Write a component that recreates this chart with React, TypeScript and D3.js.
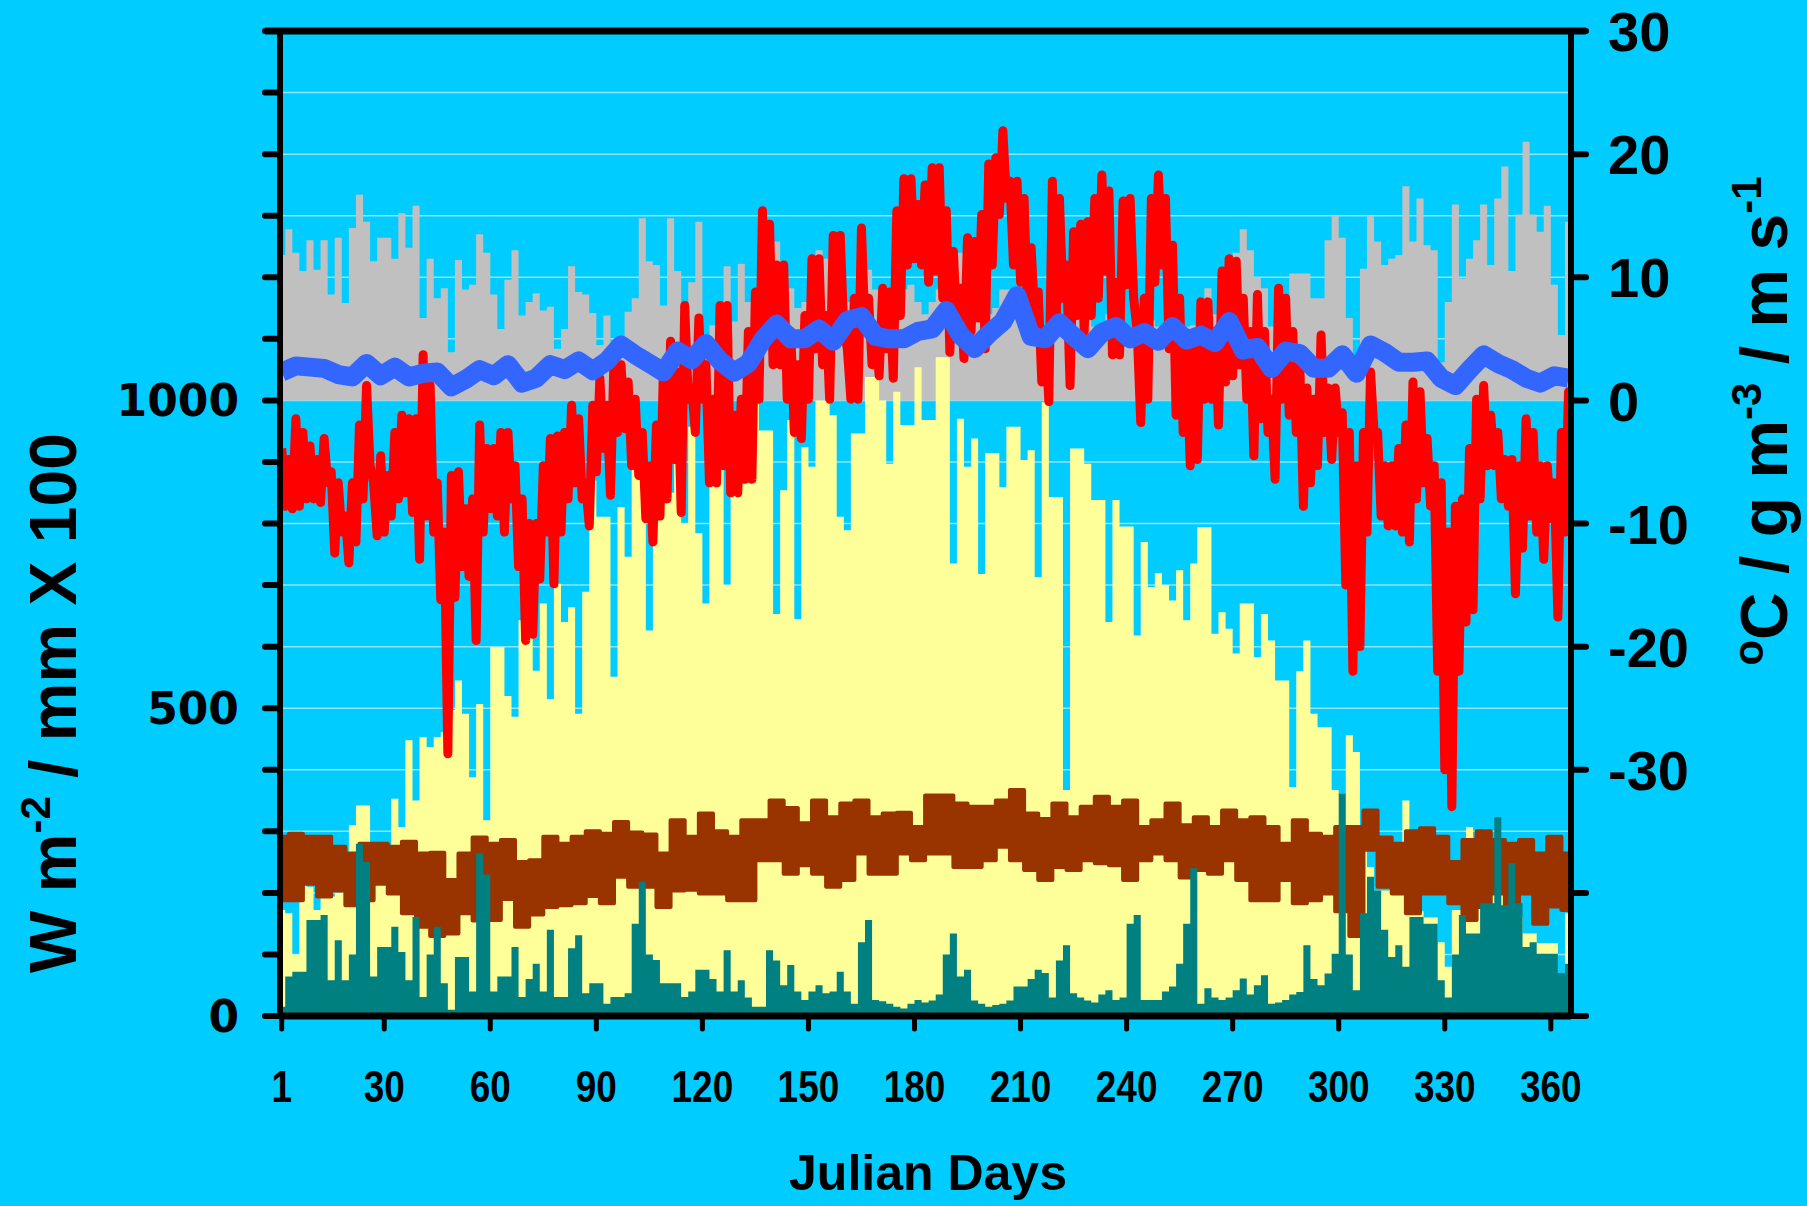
import * as d3 from 'd3';

// day grids used by the series below
const daysBy2 = d3.range(1, 366, 2); // 183 values
const daysBy4 = d3.range(1, 366, 4); // 92 values

const dayTicks = [1, 30, 60, 90, 120, 150, 180, 210, 240, 270, 300, 330, 360];
const leftTicks = d3.range(0, 1601, 100);
const leftLabels = [0, 500, 1000];
const rightTicks = d3.range(-50, 31, 10);
const rightLabels = [-30, -20, -10, 0, 10, 20, 30];

// grey: right axis, every 2nd day
const windSpeed = [
  11.8, 13.9, 12, 10.5, 13, 10.6, 13, 8.6, 13.2, 7.9, 14, 16.7, 14.5, 11.3, 13.2, 13.2, 11.5, 15.2, 12.4, 15.8,
  6.7, 11.5, 8.3, 9.1, 3.9, 11.4, 9, 9.4, 13.5, 12, 8.6, 5.8, 9.8, 12.2, 6.9, 8, 8.7, 7.3, 7.6, 4.2,
  5.8, 10.9, 8.8, 8.6, 7.1, 4.5, 6.9, 3.4, 5, 7.2, 8.3, 14.8, 11.3, 11, 7.7, 14.8, 10.5, 5, 9.6, 14.5,
  2.6, 6.1, 3.9,
  10.9, 6.4, 11.1, 8, 9, 9, 12.9, 12.9, 10, 9.1, 7.5, 8, 10, 12.2, 11.5, 8, 7, 8, 7.5, 8,
  10.6, 9, 8, 7, 8, 9, 9.4, 8, 7, 8, 9, 8, 9, 12, 11, 9, 8, 7, 7.5, 9,
  9, 8, 7, 6, 7, 6, 7, 6, 6.5, 7, 7.5, 6.5, 6, 6, 7, 6.5, 6, 5.5, 6, 5.5, 6.5, 6,
  6, 6, 6.5, 6, 6.1, 8, 9.1, 7, 7, 8, 12, 13.9, 12.2, 10, 9.1, 6, 7, 8, 10.3, 10.3,
  10.3, 8.3, 8.3, 13, 15, 13.2, 6.7, 3.4, 10.7, 15, 12.9, 11, 11.5, 11.8, 17.4, 12.9, 16.4, 12.6, 12.2, 3.1,
  8, 15.9, 9.9, 11.5, 13, 15.9, 11, 16.4, 19, 10.5, 15.1, 21, 15.1, 13.7, 15.8, 9.4, 5.3, 14.5,
];

// yellow: left axis, every 2nd day
const solar = [
  172, 167, 100, 226, 210, 172, 210, 194, 200, 221, 310, 342, 342, 237, 237, 240, 353, 307, 448, 350,
  453, 437, 453, 461, 497, 545, 491, 388, 507, 318, 599, 599, 520, 486, 643, 643, 561, 670, 515, 702,
  640, 664, 491, 689, 870, 811, 811, 551, 827, 746, 903, 903, 626, 919, 919, 850, 919, 800, 957, 784,
  670, 919, 930,
  700, 859, 865, 865, 1006, 951, 951, 653, 854, 968, 645, 924, 892, 1000, 1000, 976, 811, 789, 946, 946,
  1038, 1038, 1000, 897, 1014, 960, 960, 1054, 968, 968, 1070, 1070, 735, 970, 892, 938, 718, 914, 914, 859,
  957, 957, 903, 919, 713, 997, 843, 843, 367, 922, 922, 897, 838, 838, 640, 838, 795, 795, 618, 770,
  697, 719,
  700, 675, 724, 643, 735, 794, 794, 621, 656, 629, 589, 670, 670, 583, 653, 610, 545, 545, 372, 560,
  610, 491, 469, 469, 367, 360, 456, 429, 300, 242, 204, 204, 204, 204, 350, 170, 170, 160, 160, 120,
  80, 172, 172, 307, 199, 199, 199, 199, 199, 248, 160, 134, 134, 118, 118, 118, 48, 167,
];

// red: right axis, daily high / low every 2nd day
const tempHigh = [
  -3.9, -4.8, -1.5, -2.6, -3.7, -4.8, -3.1, -5.8, -6.7, -9.4, -6.7, -2, 1.2, -6.7, -4.5, -6.1, -2.6, -1.2, -1.5, -1.5,
  3.7, 1.2, -6.7, -10.7, -6.1, -5.8, -8.8, -8, -2, -3.9, -3.9, -2.6, -2.6, -5.3, -8, -10, -10, -5.3, -3.1, -2.9,
  -2.6, -0.4, -1.5, -6.7, -0.4, 1.8, -0.4, 3.4, 2.9, 1.5, 0.1, -2.6, -5.3, -2, 2.9, 4.8, 2.3, 7.7, 1, 6.7,
  2.9, 0.1, 7.7,
  7.7, -1.2, 0.1, 5.6, 8.8, 15.4, 14.3, 11, 11, 5.6, 2.9, 6.9, 11.5, 11.5, 6.9, 13.4, 13.4, 4.2, 8.3, 14,
  8.3, 5.6, 9.1, 8.8, 15.4, 18, 18, 15.9, 17.5, 18.9, 18.9, 15.4, 12.1, 9.1, 13.2, 12.9, 15.1, 19.2, 19.7, 21.9,
  17.8, 17.8, 16.4, 12.4, 8.8, 5.6, 17.8, 16.4, 11, 13.7, 14.3, 14.5, 16.4, 18.3, 17, 9.6, 16.2, 16.4, 5.6, 8.3,
  16.4, 18.3,
  16.4, 12.6, 8.3, 4.2, 4.2, 8, 8, 5.6, 10.5, 11.5, 11.3, 8.3, 5.6, 8.6, 5.6, 0.1, 9.1, 8.3, 5.6, 2.9,
  1, 0.1, 5.3, 1, 1, -1, -2.6, -5.3, -2.6, 2.3, -2.6, -5.3, -5.3, -3.9, -2, 1.5, 0.7, -3.1, -5.3, -6.7,
  -10.7, -8.6, -8, -3.9, 0.1, 1.2, -1.2, -2.6, -4.8, -4.8, -5.3, -1.5, -2.6, -5.3, -5.3, -6.7, -2.6, 0.7,
];
const tempLow = [
  -8.6, -8.8, -8.6, -8, -8, -8.3, -6.7, -12.4, -10.7, -13.2, -11.5, -8, -5.3, -11, -10.7, -9.4, -8, -7.5, -9.1, -12.9,
  -9.4, -10.7, -16.2, -28.7, -16, -13.5, -14.3, -19.5, -10.7, -8.8, -9.4, -10.7, -8, -13.5, -19.5, -19, -14.5, -10.7, -14.9, -10.7,
  -8, -6.7, -8, -10.2, -5.8, -3.9, -7.7, -2.6, -2.3, -5.3, -6.1, -9.6, -11.5, -9.4, -8, -4.8, -9.1, 0.1, -2.6, 0.1,
  -6.7, -6.7, -5.3,
  -7.5, -7.5, -6.4, -6.4, 0.1, 5.6, 2.9, 2.9, 0.1, -2.6, -3.1, 0.1, 4.2, 2.9, 0.1, 6.9, 5.6, 0.1, 0.1, 5.6,
  2.9, 2, 4.2, 1.8, 6.9, 11, 11.5, 11, 9.6, 10.5, 8.3, 3.9, 5.6, 3.4, 5.6, 6.7, 4.2, 11, 15.1, 16.4,
  11, 9.6, 6.9, 6.9, 1.5, -0.1, 5.6, 8.3, 1.2, 6.9, 5.6, 6.9, 8.3, 10.5, 3.7, 3.7, 9.4, 8.3, -1.8, 0.1,
  9.6, 11,
  4.2, -1.2, -2.6, -5.3, -4.8, 0.1, 0.1, -2, 1.5, 2, 2.9, 0.1, -4.5, -1.5, -2.6, -6.4, 0.1, -1.2, -2.6, -8.6,
  -6.7, -5.3, -2.6, -4.8, -2.6, -15, -22, -20, -10.7, -2.6, -9.4, -10.2, -10.2, -10.7, -11.5, -8, -6.7, -8.6, -22, -30,
  -33, -22, -18, -17, -8, -5.3, -5.3, -8, -8.6, -15.7, -12, -9.4, -10.7, -12.9, -9.6, -17.6, -10.7, -9.4,
];

// blue: right axis, every 4th day
const vapour = [
  2.3, 2.8, 2.7, 2.6, 2.1, 1.9, 3, 2, 2.7, 1.9, 2.2, 2.3, 1.1, 1.7, 2.5, 2, 2.9, 1.4, 1.8, 2.9,
  2.5, 3.2, 2.4, 3.2, 4.5, 3.7, 3, 2.3, 4, 3.3, 4.6, 3.2,
  2.3, 3, 4.9, 6.2, 5, 5, 5.8, 4.8, 6.5, 6.8, 5.2, 5, 5, 5.6, 5.8, 7.3, 5.3, 4.2, 5.4, 6.4,
  8.5, 5.2, 5, 6.3, 5.2, 4.2, 5.5, 6, 5, 5.5,
  4.8, 6, 4.9, 5.3, 4.7, 6.4, 4.1, 4.3, 2.6, 4, 3.8, 2.6, 2.6, 3.7, 2.2, 4.5, 3.9, 3.1, 3.1, 3.2,
  1.8, 1.2, 2.5, 3.7, 3, 2.5, 1.8, 1.4, 2, 1.8,
];

// brown: left axis, high / low every 4th day
const longwaveHigh = [
  291, 296, 291, 291, 275, 264, 280, 280, 275, 283, 264, 265, 221, 264, 290, 280, 286, 250, 253, 291,
  280, 291, 300, 296, 315, 298, 295, 264, 318, 291, 329, 300,
  291, 318, 318, 350, 338, 313, 350, 323, 345, 350, 323, 329, 330, 307, 358, 358, 345, 340, 340, 350,
  367, 329, 320, 345, 323, 340, 356, 340, 350, 307,
  318, 345, 310, 323, 307, 334, 318, 323, 307, 280, 318, 296, 291, 307, 307, 334, 290, 280, 300, 305,
  291, 250, 286, 300, 286, 280, 286, 264, 291, 264,
];
const longwaveLow = [
  188, 188, 215, 194, 204, 180, 188, 215, 199, 167, 145, 130, 134, 167, 155, 156, 190, 145, 165, 177,
  180, 183, 195, 183, 226, 210, 210, 177, 204, 205, 199, 199,
  188, 188, 253, 253, 231, 245, 231, 210, 221, 264, 231, 231, 264, 253, 264, 264, 242, 242, 253, 275,
  253, 237, 221, 242, 237, 253, 248, 245, 221, 253,
  264, 253, 225, 237, 231, 253, 221, 188, 188, 221, 183, 188, 199, 170, 130, 270, 210, 199, 167, 199,
  199, 183, 156, 177, 199, 140, 199, 150, 178, 172,
];

// teal: left axis, every 2nd day
const precip = [
  15, 64, 72, 72, 156, 156, 164, 58, 123, 58, 100, 280, 250, 64, 112, 112, 145, 104, 58, 161,
  31, 100, 145, 53, 10, 96, 96, 40, 264, 230, 40, 64, 64, 112, 31, 60, 85, 40, 140, 31,
  31, 110, 131, 37, 53, 53, 20, 31, 31, 37, 150, 218, 100, 91, 53, 53, 53, 31, 40, 75,
  75, 60, 40,
  107, 40, 58, 30, 15, 15, 107, 90, 50, 83, 40, 26, 40, 50, 37, 40, 72, 40, 20, 120,
  156, 26, 24, 20, 15, 12, 20, 26, 22, 25, 35, 100, 134, 64, 75, 25, 20, 15, 18, 20,
  25, 48, 48, 60, 75, 70, 30, 90, 115, 37, 30, 25, 22, 35, 42, 26, 30, 150, 164, 26,
  26, 26,
  40, 48, 85, 150, 240, 20, 45, 30, 26, 30, 42, 61, 35, 50, 66, 20, 22, 26, 35, 39,
  115, 60, 50, 69, 101, 361, 100, 42, 167, 226, 204, 140, 96, 115, 80, 161, 161, 150, 150, 58,
  30, 100, 164, 134, 134, 183, 183, 323, 180, 248, 183, 112, 120, 101, 101, 101, 70, 85,
];

const box = { left: 280, right: 1571, top: 31, bottom: 1016 };
const arial = '"Liberation Sans", Arial, sans-serif';

export default function App() {
  const x = d3.scaleLinear().domain([1, 365]).range([281.7, 1568.5]);
  const yL = d3.scaleLinear().domain([0, 1600]).range([box.bottom, box.top]);
  const yR = d3.scaleLinear().domain([-50, 30]).range([box.bottom, box.top]);

  const x2 = (_: number, i: number) => x(daysBy2[i]);
  const x4 = (_: number, i: number) => x(daysBy4[i]);

  const grayPath = d3.area<number>().curve(d3.curveStep).x(x2).y0(yR(0)).y1(v => yR(v))(windSpeed);
  const yellowPath = d3.area<number>().curve(d3.curveStep).x(x2).y0(yL(0)).y1(v => yL(v))(solar);
  const tealPath = d3.area<number>().curve(d3.curveStep).x(x2).y0(yL(0)).y1(v => yL(v))(precip);
  const brownPath = d3.area<number>().curve(d3.curveStep).x(x4)
    .y0((_, i) => yL(longwaveLow[i])).y1(v => yL(v))(longwaveHigh);

  // temperature trace: each day's high followed by its low, like a diurnal swing
  const tempTrace: [number, number][] = daysBy2.flatMap((d, i) => [
    [x(d), yR(tempHigh[i])] as [number, number],
    [x(Math.min(d + 1, 365)), yR(tempLow[i])] as [number, number],
  ]);
  const redPath = d3.line()(tempTrace);
  const bluePath = d3.line<number>().x(x4).y(v => yR(v))(vapour);

  return (
    <svg width={1807} height={1206} style={{ position: 'absolute', left: 0, top: 0, display: 'block' }}>
      <rect width={1807} height={1206} fill="#00CCFF" />
      <defs>
        <clipPath id="plot">
          <rect x={box.left} y={box.top} width={box.right - box.left} height={box.bottom - box.top} />
        </clipPath>
      </defs>

      {leftTicks.filter(t => t > 0 && t < 1600).map(t => (
        <line key={t} x1={box.left} x2={box.right} y1={yL(t)} y2={yL(t)} stroke="#8fe4ff" strokeWidth={1.5} />
      ))}

      <g clipPath="url(#plot)">
        <path d={grayPath || ''} fill="#C0C0C0" />
        <path d={yellowPath || ''} fill="#FFFF99" />
        <path d={brownPath || ''} fill="#993300" stroke="#993300" strokeWidth={4} strokeLinejoin="round" />
        <path d={tealPath || ''} fill="#008080" />
        <path d={redPath || ''} fill="none" stroke="#FF0000" strokeWidth={9} strokeLinejoin="round" />
        <path d={bluePath || ''} fill="none" stroke="#3366FF" strokeWidth={19} strokeLinejoin="round" />
      </g>

      {/* frame */}
      <line x1={box.left - 15} x2={box.right + 15} y1={box.top} y2={box.top} stroke="#000" strokeWidth={7} />
      <line x1={box.left} x2={box.right} y1={box.bottom} y2={box.bottom} stroke="#000" strokeWidth={7} />
      <line x1={box.left} x2={box.left} y1={box.top} y2={box.bottom + 3} stroke="#000" strokeWidth={6} />
      <line x1={box.right} x2={box.right} y1={box.top} y2={box.bottom + 3} stroke="#000" strokeWidth={6} />

      {leftTicks.map(t => (
        <line key={t} x1={box.left - 15} x2={box.left} y1={yL(t)} y2={yL(t)} stroke="#000" strokeWidth={6} strokeLinecap="round" />
      ))}
      {rightTicks.map(t => (
        <line key={t} x1={box.right} x2={box.right + 15} y1={yR(t)} y2={yR(t)} stroke="#000" strokeWidth={6} strokeLinecap="round" />
      ))}
      {dayTicks.map(t => (
        <line key={t} x1={x(t)} x2={x(t)} y1={box.bottom} y2={box.bottom + 13} stroke="#000" strokeWidth={5} strokeLinecap="round" />
      ))}

      {leftLabels.map(t => (
        <text key={t} x={239} y={yL(t)} dy="0.36em" textAnchor="end" fontFamily='"DejaVu Sans", Verdana, sans-serif'
          fontWeight="bold" fontSize={44}>{t}</text>
      ))}
      {rightLabels.map(t => (
        <text key={t} x={1608} y={yR(t)} dy="0.36em" textAnchor="start" fontFamily={arial}
          fontWeight="bold" fontSize={56}>{t}</text>
      ))}
      {dayTicks.map(t => (
        <text key={t} transform={`translate(${x(t)},1102) scale(0.84,1)`} textAnchor="middle" fontFamily={arial}
          fontWeight="bold" fontSize={44}>{t}</text>
      ))}

      <text x={928} y={1190} textAnchor="middle" fontFamily={arial} fontWeight="bold" fontSize={50}>Julian Days</text>

      <text transform="translate(76,703) rotate(-90)" textAnchor="middle" fontFamily={arial} fontWeight="bold" fontSize={66}>
        W m<tspan dy={-26} fontSize={42}>-2</tspan><tspan dy={26}> / mm X 100</tspan>
      </text>
      <text transform="translate(1787,421) rotate(-90)" textAnchor="middle" fontFamily={arial} fontWeight="bold" fontSize={66}>
        <tspan dy={-24} fontSize={42}>o</tspan><tspan dy={24}>C / g m</tspan><tspan dy={-26} fontSize={42}>-3</tspan>
        <tspan dy={26}> / m s</tspan><tspan dy={-26} fontSize={42}>-1</tspan>
      </text>
    </svg>
  );
}
